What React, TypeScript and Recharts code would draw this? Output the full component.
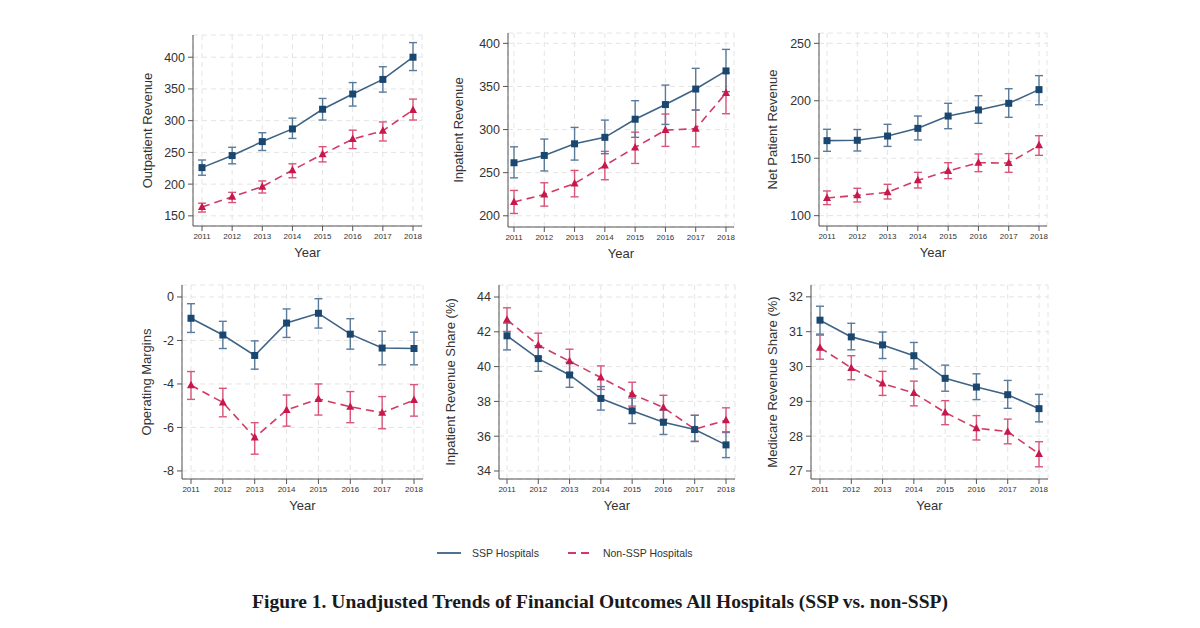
import { LineChart, Line, XAxis, YAxis, CartesianGrid, ErrorBar } from "recharts"

const years = ["2011", "2012", "2013", "2014", "2015", "2016", "2017", "2018"]

// Outpatient revenue
const outSsp = [226, 245, 267, 287, 318, 342, 365, 400]
const outSspLo = [214, 232, 253, 272, 301, 323, 345, 379]
const outSspHi = [238, 258, 281, 304, 335, 360, 385, 423]
const outNon = [164, 180, 196, 222, 247, 271, 284, 317]
const outNonLo = [156, 171, 186, 210, 235, 256, 268, 301]
const outNonHi = [170, 187, 205, 232, 259, 285, 298, 334]

// Inpatient revenue
const inSsp = [261.5, 270, 283.5, 291, 312, 329, 347, 368]
const inSspLo = [244, 252, 264.6, 272, 291, 306, 322.6, 344]
const inSspHi = [280, 289, 302.5, 311, 333.5, 351.6, 371, 393]
const inNon = [216, 224.7, 237.5, 258.4, 279.3, 299.4, 301, 342.4]
const inNonLo = [202.7, 211.2, 222, 241.8, 260.7, 280.5, 280, 318.4]
const inNonHi = [229.4, 238.3, 252.6, 274.7, 297, 318, 322.6, 366]

// Net patient revenue
const netSsp = [165.3, 165.6, 169.3, 176, 186.7, 192, 197.8, 209.7]
const netSspLo = [156, 156.3, 160.3, 165.9, 175.7, 180.4, 185.6, 196.6]
const netSspHi = [175.2, 175, 179.5, 186.7, 197.8, 204.4, 210.5, 221.9]
const netNon = [115.4, 117.7, 120.3, 130.8, 138.9, 146.1, 145.8, 161.2]
const netNonLo = [109.6, 111.9, 114.5, 124.1, 132.2, 138.3, 137.7, 152.5]
const netNonHi = [121.5, 123.8, 127.3, 137.7, 146.1, 153.7, 154, 169.6]

// Operating margins
const opSsp = [-0.98, -1.75, -2.69, -1.2, -0.75, -1.71, -2.35, -2.37]
const opSspLo = [-1.63, -2.37, -3.32, -1.86, -1.43, -2.4, -3.12, -3.12]
const opSspHi = [-0.31, -1.12, -2.02, -0.55, -0.08, -1.0, -1.58, -1.62]
const opNon = [-4.06, -4.85, -6.46, -5.2, -4.69, -5.05, -5.32, -4.74]
const opNonLo = [-4.71, -5.51, -7.23, -5.94, -5.43, -5.78, -6.06, -5.48]
const opNonHi = [-3.43, -4.2, -5.78, -4.51, -4.0, -4.35, -4.58, -4.03]

// Inpatient revenue share (%)
const shSsp = [41.77, 40.46, 39.52, 38.17, 37.46, 36.8, 36.38, 35.5]
const shSspLo = [40.96, 39.73, 38.81, 37.5, 36.73, 36.1, 35.7, 34.77]
const shSspHi = [42.5, 41.2, 40.25, 38.85, 38.2, 37.5, 37.2, 36.25]
const shNon = [42.69, 41.23, 40.31, 39.37, 38.42, 37.65, 36.4, 36.92]
const shNonLo = [42.02, 40.54, 39.62, 38.69, 37.73, 36.96, 35.7, 36.21]
const shNonHi = [43.38, 41.92, 41.0, 40.04, 39.1, 38.35, 37.2, 37.63]

// Medicare revenue share (%)
const mcSsp = [31.33, 30.85, 30.62, 30.31, 29.66, 29.41, 29.19, 28.79]
const mcSspLo = [30.93, 30.48, 30.23, 29.93, 29.29, 29.05, 28.8, 28.41]
const mcSspHi = [31.73, 31.24, 30.99, 30.69, 30.04, 29.79, 29.6, 29.2]
const mcNon = [30.54, 29.96, 29.51, 29.24, 28.68, 28.23, 28.13, 27.49]
const mcNonLo = [30.21, 29.62, 29.17, 28.87, 28.33, 27.89, 27.78, 27.12]
const mcNonHi = [30.9, 30.31, 29.86, 29.58, 29.02, 28.59, 28.49, 27.84]

const SSP_LINE = "#3d6386"
const SSP_MARK = "#1a476f"
const SSP_ERR = "#5a7b99"
const NON_LINE = "#d23a64"
const NON_MARK = "#c8174a"
const NON_ERR = "#d9557a"
const AXIS = "#555"
const TEXT = "#333"

const build = (s: number[], sl: number[], sh: number[], n: number[], nl: number[], nh: number[]) =>
  years.map((year, i) => ({
    year,
    ssp: s[i],
    sspErr: [s[i] - sl[i], sh[i] - s[i]],
    non: n[i],
    nonErr: [n[i] - nl[i], nh[i] - n[i]],
  }))

const panels = [
  {
    label: "Outpatient Revenue",
    data: build(outSsp, outSspLo, outSspHi, outNon, outNonLo, outNonHi),
    domain: [134, 435], ticks: [150, 200, 250, 300, 350, 400],
    left: 193, right: 422, top: 35, bottom: 226, padL: 9, padR: 9, gap: 46,
  },
  {
    label: "Inpatient Revenue",
    data: build(inSsp, inSspLo, inSspHi, inNon, inNonLo, inNonHi),
    domain: [187, 412], ticks: [200, 250, 300, 350, 400],
    left: 508, right: 734, top: 33, bottom: 227, padL: 6, padR: 8, gap: 50,
  },
  {
    label: "Net Patient Revenue",
    data: build(netSsp, netSspLo, netSspHi, netNon, netNonLo, netNonHi),
    domain: [91, 259], ticks: [100, 150, 200, 250],
    left: 819, right: 1047, top: 33, bottom: 226, padL: 8, padR: 8, gap: 47,
  },
  {
    label: "Operating Margins",
    data: build(opSsp, opSspLo, opSspHi, opNon, opNonLo, opNonHi),
    domain: [-8.37, 0.55], ticks: [-8, -6, -4, -2, 0],
    left: 182, right: 423, top: 285, bottom: 479, padL: 9, padR: 9, gap: 36,
  },
  {
    label: "Inpatient Revenue Share (%)",
    data: build(shSsp, shSspLo, shSspHi, shNon, shNonLo, shNonHi),
    domain: [33.54, 44.69], ticks: [34, 36, 38, 40, 42, 44],
    left: 499, right: 735, top: 285, bottom: 479, padL: 8, padR: 9, gap: 49,
  },
  {
    label: "Medicare Revenue Share (%)",
    data: build(mcSsp, mcSspLo, mcSspHi, mcNon, mcNonLo, mcNonHi),
    domain: [26.77, 32.34], ticks: [27, 28, 29, 30, 31, 32],
    left: 811, right: 1048, top: 285, bottom: 479, padL: 9, padR: 9, gap: 39,
  },
]

const Y_W = 62
const X_H = 40

const squareDot = (p: any) => (
  <rect key={`s-${p.index}`} x={p.cx - 3.5} y={p.cy - 3.5} width={7} height={7} fill={SSP_MARK} />
)

const triDot = (p: any) => (
  <polygon
    key={`t-${p.index}`}
    points={`${p.cx},${p.cy - 4.5} ${p.cx - 4},${p.cy + 3} ${p.cx + 4},${p.cy + 3}`}
    fill={NON_MARK}
  />
)

function Panel({ cfg }: { cfg: (typeof panels)[number] }) {
  const width = cfg.right - cfg.left + Y_W + 2
  const height = cfg.bottom - cfg.top + 5 + X_H
  return (
    <div style={{ position: "absolute", left: cfg.left - Y_W, top: cfg.top - 5 }}>
      <LineChart width={width} height={height} data={cfg.data} margin={{ top: 5, right: 2, left: 0, bottom: 0 }}>
        <CartesianGrid stroke="#e4e4e4" strokeDasharray="5 4" />
        <XAxis
          dataKey="year"
          height={X_H}
          padding={{ left: cfg.padL, right: cfg.padR }}
          tick={{ fontSize: 8, fill: TEXT }}
          tickSize={5}
          tickMargin={2}
          stroke={AXIS}
          interval={0}
          label={({ viewBox }: any) => (
            <text
              x={viewBox.x + viewBox.width / 2}
              y={viewBox.y + 31}
              textAnchor="middle"
              fontSize={13}
              fill={TEXT}
              fontFamily="Liberation Sans, Arial, sans-serif"
            >
              Year
            </text>
          )}
        />
        <YAxis
          width={Y_W}
          type="number"
          domain={cfg.domain}
          ticks={cfg.ticks}
          allowDataOverflow
          tick={{ fontSize: 12.5, fill: TEXT }}
          tickSize={5}
          tickMargin={3}
          stroke={AXIS}
          label={({ viewBox }: any) => {
            const x = viewBox.x + viewBox.width - cfg.gap
            const y = viewBox.y + viewBox.height / 2
            return (
              <text
                x={x}
                y={y}
                transform={`rotate(-90 ${x} ${y})`}
                textAnchor="middle"
                dominantBaseline="central"
                fontSize={13}
                fill={TEXT}
                fontFamily="Liberation Sans, Arial, sans-serif"
              >
                {cfg.label}
              </text>
            )
          }}
        />
        <Line
          dataKey="non"
          stroke={NON_LINE}
          strokeWidth={1.6}
          strokeDasharray="8 5"
          dot={triDot}
          activeDot={false}
          isAnimationActive={false}
        >
          <ErrorBar dataKey="nonErr" direction="y" width={4} stroke={NON_ERR} strokeWidth={1.4} isAnimationActive={false} />
        </Line>
        <Line
          dataKey="ssp"
          stroke={SSP_LINE}
          strokeWidth={1.6}
          dot={squareDot}
          activeDot={false}
          isAnimationActive={false}
        >
          <ErrorBar dataKey="sspErr" direction="y" width={4} stroke={SSP_ERR} strokeWidth={1.4} isAnimationActive={false} />
        </Line>
      </LineChart>
    </div>
  )
}

export default function App() {
  return (
    <div
      style={{
        position: "absolute",
        left: 0,
        top: 0,
        width: 1200,
        height: 628,
        background: "#fff",
        fontFamily: "Liberation Sans, Arial, sans-serif",
      }}
    >
      {panels.map((p) => (
        <Panel key={p.label} cfg={p} />
      ))}
      <div style={{ position: "absolute", left: 434, top: 545, display: "flex", alignItems: "center", fontSize: 10.5, color: TEXT }}>
        <svg width={30} height={16}>
          <line x1={3} y1={8} x2={27} y2={8} stroke={SSP_LINE} strokeWidth={1.8} />
        </svg>
        <span style={{ marginLeft: 8 }}>SSP Hospitals</span>
        <svg width={30} height={16} style={{ marginLeft: 26 }}>
          <line x1={3} y1={8} x2={28} y2={8} stroke={NON_LINE} strokeWidth={1.8} strokeDasharray="8 5" />
        </svg>
        <span style={{ marginLeft: 8 }}>Non-SSP Hospitals</span>
      </div>
      <div
        style={{
          position: "absolute",
          left: 0,
          top: 591,
          width: 1200,
          textAlign: "center",
          fontFamily: "Liberation Serif, Times New Roman, serif",
          fontWeight: "bold",
          fontSize: 19.5,
          color: "#1a1a1a",
        }}
      >
        Figure 1. Unadjusted Trends of Financial Outcomes All Hospitals (SSP vs. non-SSP)
      </div>
    </div>
  )
}
